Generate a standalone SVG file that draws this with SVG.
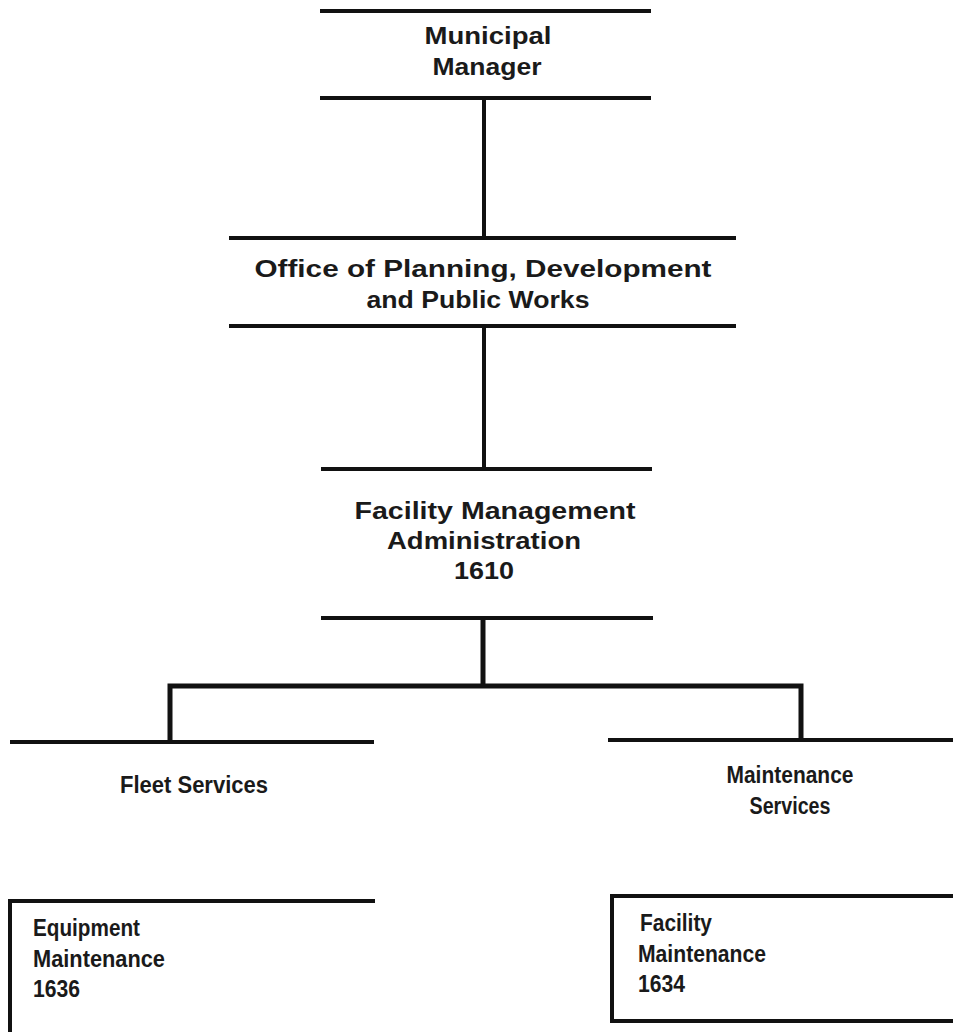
<svg xmlns="http://www.w3.org/2000/svg" width="953" height="1032" viewBox="0 0 953 1032">
<style>
.ln{stroke:#111;stroke-width:4;fill:none;stroke-linecap:butt}
.th{stroke:#111;stroke-width:5;fill:none}
.t{font-family:"Liberation Sans",Arial,sans-serif;font-weight:bold;font-size:23px;fill:#1a1a1a}
.c{text-anchor:middle}
</style>
<rect width="953" height="1032" fill="#fff"/>
<g id="connectors">
<line class="ln" x1="484" y1="98" x2="484" y2="238"/>
<line class="ln" x1="484" y1="326" x2="484" y2="469"/>
<line class="th" x1="483" y1="618" x2="483" y2="686"/>
<polyline class="th" points="170,742 170,686 801,686 801,740"/>
</g>
<g id="municipal-manager">
<line class="ln" x1="320" y1="11" x2="651" y2="11"/>
<line class="ln" x1="320" y1="98" x2="651" y2="98"/>
<text class="t c" x="488" y="44" textLength="127" lengthAdjust="spacingAndGlyphs">Municipal</text>
<text class="t c" x="487" y="75" textLength="109" lengthAdjust="spacingAndGlyphs">Manager</text>
</g>
<g id="office-planning">
<line class="ln" x1="229" y1="238" x2="736" y2="238"/>
<line class="ln" x1="229" y1="326" x2="736" y2="326"/>
<text class="t c" x="483" y="277" textLength="457" lengthAdjust="spacingAndGlyphs">Office of Planning, Development</text>
<text class="t c" x="478" y="308" textLength="223" lengthAdjust="spacingAndGlyphs">and Public Works</text>
</g>
<g id="facility-management">
<line class="ln" x1="321" y1="469" x2="652" y2="469"/>
<line class="ln" x1="321" y1="618" x2="653" y2="618"/>
<text class="t c" x="495" y="519" textLength="281" lengthAdjust="spacingAndGlyphs">Facility Management</text>
<text class="t c" x="484" y="549" textLength="194" lengthAdjust="spacingAndGlyphs">Administration</text>
<text class="t c" x="484" y="579" textLength="60" lengthAdjust="spacingAndGlyphs">1610</text>
</g>
<g id="fleet-services">
<line class="ln" x1="10" y1="742" x2="374" y2="742"/>
<text class="t c" x="194" y="793" textLength="148" lengthAdjust="spacingAndGlyphs">Fleet Services</text>
</g>
<g id="maintenance-services">
<line class="ln" x1="608" y1="740" x2="953" y2="740"/>
<text class="t c" x="790" y="783" textLength="127" lengthAdjust="spacingAndGlyphs">Maintenance</text>
<text class="t c" x="790" y="814" textLength="81" lengthAdjust="spacingAndGlyphs">Services</text>
</g>
<g id="equipment-maintenance">
<polyline class="ln" points="10,1032 10,901 375,901"/>
<text class="t" x="33" y="936" textLength="107" lengthAdjust="spacingAndGlyphs">Equipment</text>
<text class="t" x="33" y="967" textLength="132" lengthAdjust="spacingAndGlyphs">Maintenance</text>
<text class="t" x="33" y="997" textLength="47" lengthAdjust="spacingAndGlyphs">1636</text>
</g>
<g id="facility-maintenance">
<polyline class="ln" points="953,896 612,896 612,1021 953,1021"/>
<text class="t" x="640" y="931" textLength="72" lengthAdjust="spacingAndGlyphs">Facility</text>
<text class="t" x="638" y="962" textLength="128" lengthAdjust="spacingAndGlyphs">Maintenance</text>
<text class="t" x="638" y="992" textLength="47" lengthAdjust="spacingAndGlyphs">1634</text>
</g>
</svg>
